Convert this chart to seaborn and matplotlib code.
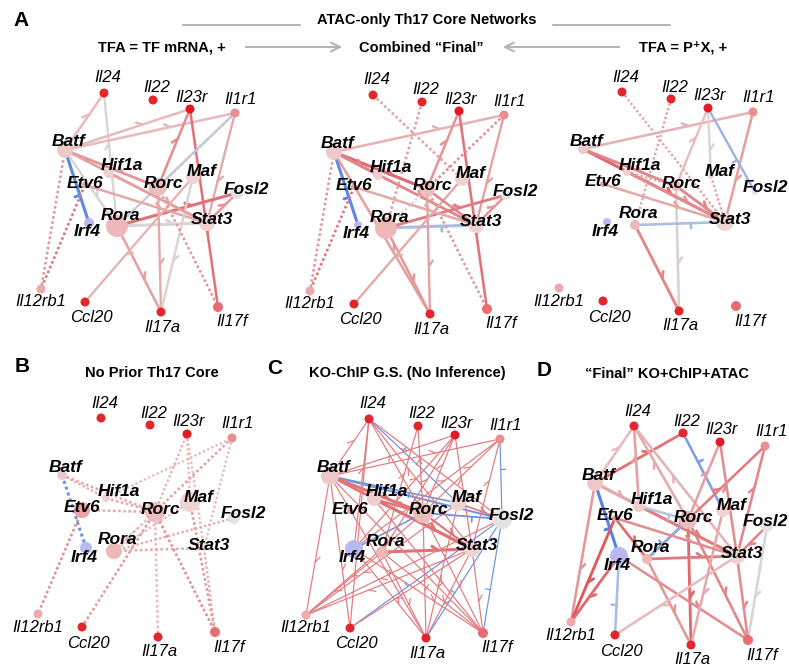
import numpy as np
import pandas as pd
import matplotlib
matplotlib.use('Agg')
import matplotlib.pyplot as plt
from matplotlib.colors import LinearSegmentedColormap
import seaborn as sns

W, H = 789, 666

# --- nodes ---
genes = ['Il24', 'Il22', 'Il23r', 'Il1r1', 'Il12rb1', 'Ccl20', 'Il17a', 'Il17f']
tfs = ['Batf', 'Hif1a', 'Maf', 'Rorc', 'Etv6', 'Fosl2', 'Rora', 'Stat3', 'Irf4']

# TF node radius (px) per panel, same order as tfs
tf_size_a1 = [8, 5, 7, 9, 3, 6, 11, 8, 5]
tf_size_a2 = [8, 5, 7, 8, 3, 5, 11, 8, 4]
tf_size_a3 = [5, 4, 3, 5, 3, 3, 5, 9, 4]
tf_size_b = [5, 4, 10, 10, 8, 6, 8, 3, 6]
tf_size_c = [9, 7, 8, 10, 3, 10, 6, 8, 9]
tf_size_d = [8, 6, 7, 9, 3, 6, 5, 8, 9]
gene_size = [4.5, 4.5, 4.5, 4.5, 4.5, 4.5, 4.5, 5]

# --- edges: (regulator, target, sign/strength, confidence, dotted) ---
edges_a1 = [
    ('Batf', 'Il24', 0.3, 0.7, 0), ('Rora', 'Il24', 0.05, 0.6, 0),
    ('Batf', 'Il23r', 0.3, 0.7, 0), ('Batf', 'Il1r1', 0.3, 0.7, 0),
    ('Batf', 'Irf4', -0.8, 0.9, 0), ('Batf', 'Rorc', 0.5, 0.8, 0),
    ('Batf', 'Stat3', 0.45, 0.7, 0), ('Batf', 'Rora', 0.05, 0.6, 0),
    ('Batf', 'Il12rb1', 0.5, 0.7, 1), ('Etv6', 'Il12rb1', 0.7, 0.7, 1),
    ('Rorc', 'Il23r', 0.55, 0.7, 0), ('Il23r', 'Il17f', 0.7, 0.7, 0),
    ('Il1r1', 'Stat3', 0.4, 0.6, 0), ('Il1r1', 'Rorc', 0.5, 0.7, 1),
    ('Il1r1', 'Rora', -0.15, 0.6, 0), ('Rora', 'Fosl2', 0.7, 0.9, 0),
    ('Rora', 'Stat3', 0.05, 0.9, 0), ('Etv6', 'Stat3', 0.4, 0.7, 0),
    ('Rora', 'Il17a', 0.45, 0.7, 0), ('Rorc', 'Il17a', 0.4, 0.6, 0),
    ('Maf', 'Ccl20', 0.35, 0.6, 0), ('Maf', 'Il17a', 0.1, 0.6, 0),
    ('Rorc', 'Il17f', 0.5, 0.7, 1), ('Hif1a', 'Stat3', 0.45, 0.7, 0),
    ('Stat3', 'Fosl2', 0.5, 0.7, 0),
]
edges_a2 = [
    ('Il24', 'Maf', 0.45, 0.7, 1), ('Il22', 'Rora', 0.45, 0.7, 1),
    ('Batf', 'Il1r1', 0.35, 0.7, 0), ('Rorc', 'Il23r', 0.5, 0.7, 0),
    ('Il23r', 'Il17f', 0.7, 0.7, 0), ('Il1r1', 'Stat3', 0.45, 0.6, 0),
    ('Il1r1', 'Rorc', 0.55, 0.7, 1), ('Batf', 'Irf4', -0.8, 0.9, 0),
    ('Batf', 'Rorc', 0.75, 0.9, 0), ('Batf', 'Stat3', 0.6, 0.8, 0),
    ('Batf', 'Hif1a', 0.6, 0.8, 0), ('Batf', 'Il12rb1', 0.5, 0.7, 1),
    ('Etv6', 'Il12rb1', 0.7, 0.7, 1), ('Batf', 'Il17a', 0.45, 0.7, 0),
    ('Rora', 'Il17a', 0.5, 0.7, 0), ('Rora', 'Stat3', -0.3, 0.9, 0),
    ('Rora', 'Fosl2', 0.65, 0.8, 0), ('Maf', 'Ccl20', 0.4, 0.6, 0),
    ('Rorc', 'Il17a', 0.45, 0.6, 0), ('Rorc', 'Il17f', 0.5, 0.7, 1),
    ('Etv6', 'Stat3', 0.4, 0.7, 0), ('Rorc', 'Stat3', 0.6, 0.7, 0),
    ('Stat3', 'Fosl2', 0.5, 0.7, 0), ('Rorc', 'Rora', 0.05, 0.6, 1),
]
edges_a3 = [
    ('Il24', 'Stat3', 0.45, 0.6, 1), ('Il22', 'Rora', 0.45, 0.6, 1),
    ('Batf', 'Il1r1', 0.35, 0.7, 0), ('Il1r1', 'Stat3', 0.45, 0.7, 0),
    ('Il23r', 'Fosl2', -0.4, 0.6, 0), ('Il23r', 'Maf', 0.05, 0.6, 0),
    ('Rorc', 'Il23r', 0.3, 0.6, 0), ('Rorc', 'Il17a', 0.1, 0.7, 0),
    ('Batf', 'Stat3', 0.75, 0.9, 0), ('Batf', 'Rorc', 0.6, 0.8, 0),
    ('Hif1a', 'Stat3', 0.55, 0.7, 0), ('Etv6', 'Stat3', 0.4, 0.7, 0),
    ('Rora', 'Stat3', -0.3, 0.7, 0), ('Rora', 'Il17a', 0.6, 0.8, 0),
    ('Maf', 'Stat3', 0.45, 0.6, 1), ('Hif1a', 'Rorc', 0.45, 0.6, 1),
    ('Rorc', 'Stat3', 0.6, 0.8, 0),
]
edges_b = [
    ('Batf', 'Irf4', -0.7, 0.9, 1), ('Batf', 'Rorc', 0.4, 0.7, 1),
    ('Hif1a', 'Il1r1', 0.3, 0.6, 1), ('Etv6', 'Il12rb1', 0.55, 0.7, 1),
    ('Etv6', 'Rorc', 0.4, 0.7, 1), ('Rorc', 'Il23r', 0.35, 0.6, 1),
    ('Il23r', 'Stat3', 0.3, 0.6, 1), ('Maf', 'Il23r', 0.3, 0.6, 1),
    ('Il1r1', 'Rora', 0.45, 0.7, 1), ('Il1r1', 'Stat3', 0.3, 0.6, 1),
    ('Rorc', 'Il17a', 0.3, 0.7, 1), ('Rorc', 'Il17f', 0.55, 0.7, 1),
    ('Maf', 'Il17f', 0.5, 0.7, 1), ('Rorc', 'Ccl20', 0.5, 0.7, 1),
    ('Rora', 'Stat3', 0.4, 0.7, 1), ('Rora', 'Fosl2', 0.4, 0.6, 1),
    ('Hif1a', 'Rorc', 0.4, 0.7, 1), ('Batf', 'Hif1a', 0.4, 0.6, 1),
    ('Stat3', 'Il17f', 0.4, 0.6, 1), ('Maf', 'Rora', 0.3, 0.6, 1),
    ('Rora', 'Rorc', 0.05, 0.6, 1),
]
edges_c = [
    ('Batf', 'Fosl2', -0.7, 0.45, 0), ('Batf', 'Maf', -0.7, 0.3, 0),
    ('Batf', 'Rorc', 0.7, 0.9, 0), ('Batf', 'Stat3', 0.7, 0.7, 0),
    ('Hif1a', 'Stat3', 0.7, 0.9, 0), ('Hif1a', 'Rorc', 0.7, 0.6, 0),
    ('Rora', 'Stat3', 0.7, 0.9, 0), ('Rorc', 'Fosl2', -0.7, 0.4, 0),
    ('Irf4', 'Rorc', -0.7, 0.3, 0), ('Rorc', 'Stat3', 0.7, 0.5, 0),
    ('Maf', 'Fosl2', 0.7, 0.3, 0),
    ('Batf', 'Il24', 0.65, 0.15, 0), ('Irf4', 'Il24', 0.65, 0.15, 0),
    ('Rorc', 'Il24', 0.65, 0.15, 0), ('Stat3', 'Il24', 0.65, 0.15, 0),
    ('Fosl2', 'Il24', 0.65, 0.15, 0), ('Maf', 'Il24', -0.7, 0.15, 0),
    ('Rorc', 'Il22', 0.65, 0.15, 0), ('Rora', 'Il22', 0.65, 0.15, 0),
    ('Batf', 'Il23r', 0.65, 0.15, 0), ('Rorc', 'Il23r', 0.65, 0.15, 0),
    ('Stat3', 'Il23r', 0.65, 0.15, 0), ('Irf4', 'Il23r', 0.65, 0.15, 0),
    ('Rora', 'Il23r', 0.65, 0.15, 0),
    ('Batf', 'Il1r1', 0.65, 0.15, 0), ('Rorc', 'Il1r1', 0.65, 0.15, 0),
    ('Stat3', 'Il1r1', 0.65, 0.15, 0), ('Irf4', 'Il1r1', 0.65, 0.15, 0),
    ('Fosl2', 'Il1r1', -0.7, 0.15, 0),
    ('Batf', 'Il12rb1', 0.65, 0.15, 0), ('Rorc', 'Il12rb1', 0.65, 0.15, 0),
    ('Stat3', 'Il12rb1', 0.65, 0.15, 0), ('Fosl2', 'Il12rb1', 0.65, 0.15, 0),
    ('Rora', 'Il12rb1', 0.65, 0.15, 0), ('Maf', 'Il12rb1', 0.65, 0.15, 0),
    ('Fosl2', 'Ccl20', -0.7, 0.15, 0), ('Stat3', 'Ccl20', 0.65, 0.15, 0),
    ('Batf', 'Ccl20', 0.65, 0.15, 0), ('Il24', 'Ccl20', 0.65, 0.15, 0),
    ('Batf', 'Il17a', 0.65, 0.15, 0), ('Irf4', 'Il17a', 0.65, 0.15, 0),
    ('Rorc', 'Il17a', 0.65, 0.15, 0), ('Stat3', 'Il17a', 0.65, 0.15, 0),
    ('Fosl2', 'Il17a', -0.7, 0.15, 0), ('Maf', 'Il17a', 0.65, 0.15, 0),
    ('Rora', 'Il17a', 0.65, 0.15, 0),
    ('Batf', 'Il17f', 0.65, 0.15, 0), ('Irf4', 'Il17f', 0.65, 0.15, 0),
    ('Rorc', 'Il17f', 0.65, 0.15, 0), ('Stat3', 'Il17f', 0.65, 0.15, 0),
    ('Fosl2', 'Il17f', -0.7, 0.15, 0), ('Rora', 'Il17f', 0.65, 0.15, 0),
    ('Hif1a', 'Il17f', 0.65, 0.15, 0),
]
edges_d = [
    ('Batf', 'Irf4', -0.85, 0.9, 0), ('Batf', 'Il22', 0.7, 0.8, 0),
    ('Maf', 'Il22', -0.6, 0.7, 0), ('Batf', 'Il24', 0.3, 0.7, 0),
    ('Hif1a', 'Il24', 0.45, 0.7, 0), ('Rorc', 'Il24', 0.4, 0.7, 0),
    ('Stat3', 'Il24', 0.35, 0.7, 0), ('Batf', 'Il12rb1', 0.5, 0.7, 0),
    ('Etv6', 'Il12rb1', 0.85, 0.8, 0), ('Irf4', 'Il12rb1', 0.75, 0.8, 0),
    ('Irf4', 'Ccl20', -0.3, 0.7, 0), ('Fosl2', 'Il17f', 0.05, 0.7, 0),
    ('Rorc', 'Il17a', 0.75, 0.8, 0), ('Rorc', 'Il17f', 0.6, 0.7, 0),
    ('Stat3', 'Il17f', 0.55, 0.7, 0), ('Irf4', 'Il17f', 0.55, 0.7, 0),
    ('Rora', 'Il1r1', 0.65, 0.7, 0), ('Stat3', 'Il1r1', 0.6, 0.7, 0),
    ('Rorc', 'Il23r', 0.45, 0.7, 0), ('Stat3', 'Il23r', 0.55, 0.7, 0),
    ('Rora', 'Stat3', 0.65, 0.8, 0), ('Batf', 'Stat3', 0.6, 0.8, 0),
    ('Hif1a', 'Stat3', 0.65, 0.8, 0), ('Rorc', 'Rora', -0.5, 0.7, 0),
    ('Hif1a', 'Rorc', -0.2, 0.7, 0), ('Rora', 'Il17a', 0.5, 0.7, 0),
    ('Stat3', 'Ccl20', 0.3, 0.7, 0), ('Fosl2', 'Stat3', 0.6, 0.7, 0),
    ('Etv6', 'Rora', 0.75, 0.7, 0), ('Maf', 'Il17a', 0.4, 0.7, 0),
    ('Etv6', 'Stat3', 0.55, 0.7, 0), ('Batf', 'Hif1a', 0.4, 0.7, 0),
]

# --- layout (px, relative to panel A top-left) ---
layout = {
    'Il24': (104, 93), 'Il22': (153, 100), 'Il23r': (190, 109), 'Il1r1': (235, 113),
    'Batf': (65, 150), 'Hif1a': (109, 173), 'Maf': (193, 177), 'Rorc': (158, 187),
    'Etv6': (85, 185), 'Fosl2': (237, 193), 'Rora': (117, 226), 'Stat3': (207, 223),
    'Irf4': (89, 223), 'Il12rb1': (41, 289), 'Ccl20': (85, 302), 'Il17a': (161, 312),
    'Il17f': (218, 307),
}
label_off = {
    'Il24': (4, -15), 'Il22': (4, -12), 'Il23r': (2, -12), 'Il1r1': (6, -14),
    'Batf': (4, -8), 'Hif1a': (13, -7), 'Maf': (9, -5), 'Rorc': (5, -3),
    'Etv6': (0, -2), 'Fosl2': (9, -4), 'Rora': (3, -11), 'Stat3': (5, -3),
    'Irf4': (-2, 9), 'Il12rb1': (0, 13), 'Ccl20': (6, 16), 'Il17a': (1, 15),
    'Il17f': (14, 15),
}
node_color = {
    'Il24': '#e3262b', 'Il22': '#e3262b', 'Il23r': '#e31a22', 'Il1r1': '#ec8e90',
    'Il12rb1': '#eeaaab', 'Ccl20': '#e3262b', 'Il17a': '#e3262b', 'Il17f': '#e86c70',
    'Batf': '#edcaca', 'Hif1a': '#efcfcf', 'Maf': '#f0d3d3', 'Rorc': '#ebbdbd',
    'Etv6': '#e9a3a3', 'Fosl2': '#e3e3e3', 'Rora': '#ecb8b8', 'Stat3': '#efd3d3',
    'Irf4': '#b9b9ef',
}

edge_cmap = LinearSegmentedColormap.from_list(
    'edge', [(0.0, '#3f75e0'), (0.35, '#aabde3'), (0.5, '#d9d9d9'),
             (0.65, '#e6bcbc'), (1.0, '#dc3d45')])


def draw_panel(ax, edges, tf_sizes, off):
    ox, oy = off
    pos = {n: (x + ox, y + oy) for n, (x, y) in layout.items()}
    for src, tgt, s, w, dot in edges:
        (x0, y0), (x1, y1) = pos[src], pos[tgt]
        col = edge_cmap((s + 1) / 2)
        lw = 0.6 + 1.8 * w
        if dot:
            ax.plot([x0, x1], [y0, y1], color=col, lw=lw, ls=(0, (1, 1)),
                    dash_capstyle='butt', zorder=1)
            continue
        ax.plot([x0, x1], [y0, y1], color=col, lw=lw, solid_capstyle='round', zorder=1)
        # small direction mark along the edge
        d = np.array([x1 - x0, y1 - y0])
        u = d / np.hypot(*d)
        p = np.array([x0, y0]) + 0.62 * d
        if s < 0:
            q = p + 5 * np.array([-u[1], u[0]])
        else:
            a = np.deg2rad(35)
            r = np.array([u[0] * np.cos(a) - u[1] * np.sin(a),
                          u[0] * np.sin(a) + u[1] * np.cos(a)])
            q = p - 7 * r
        ax.plot([p[0], q[0]], [p[1], q[1]], color=col, lw=lw, zorder=1)

    radius = dict(zip(genes, gene_size)) | dict(zip(tfs, tf_sizes))
    df = pd.DataFrame({'node': list(layout)})
    df['x'] = [pos[n][0] for n in df['node']]
    df['y'] = [pos[n][1] for n in df['node']]
    df['area'] = [(1.44 * radius[n]) ** 2 for n in df['node']]
    sns.scatterplot(data=df, x='x', y='y', hue='node', palette=node_color,
                    size='area', sizes=(1, 600), size_norm=(1, 600),
                    linewidth=0, legend=False, ax=ax, zorder=3)
    for n, (x, y) in pos.items():
        dx, dy = label_off[n]
        tx, ha = x + dx, 'center'
        if tx > W - 26:  # keep labels at the right edge inside the figure
            tx, ha = W - 1, 'right'
        if n in tfs:
            ax.text(tx, y + dy, n, ha=ha, va='center', fontsize=12.5,
                    fontweight='bold', fontstyle='italic', zorder=4)
        else:
            ax.text(tx, y + dy, n, ha=ha, va='center', fontsize=12,
                    fontstyle='italic', zorder=4)


sns.set_theme(style='white')
plt.rcParams['font.family'] = ['Liberation Sans', 'DejaVu Sans']
plt.rcParams['text.color'] = 'black'

fig = plt.figure(figsize=(W / 100, H / 100), dpi=100)
ax = fig.add_axes([0, 0, 1, 1])
ax.set_xlim(0, W)
ax.set_ylim(H, 0)
ax.axis('off')

panels = [
    (edges_a1, tf_size_a1, (0, 0)),
    (edges_a2, tf_size_a2, (269, 2)),
    (edges_a3, tf_size_a3, (518, -1)),
    (edges_b, tf_size_b, (-3, 325)),
    (edges_c, tf_size_c, (265, 326)),
    (edges_d, tf_size_d, (530, 333)),
]
for edges, sizes, off in panels:
    draw_panel(ax, edges, sizes, off)

# headers
grey = '#b5b5b5'
ax.text(427, 20, 'ATAC-only Th17 Core Networks', ha='center', va='center',
        fontsize=10.5, fontweight='bold')
ax.plot([183, 300], [25, 25], color=grey, lw=1.5)
ax.plot([553, 670], [25, 25], color=grey, lw=1.5)
ax.text(162, 48, 'TFA = TF mRNA, +', ha='center', va='center', fontsize=10.5, fontweight='bold')
ax.text(421, 48, 'Combined \u201cFinal\u201d', ha='center', va='center', fontsize=10.5, fontweight='bold')
ax.text(683, 48, 'TFA = P\u207aX, +', ha='center', va='center', fontsize=10.5, fontweight='bold')
ax.annotate('', xy=(345, 47), xytext=(243, 47),
            arrowprops=dict(arrowstyle='->', color=grey, lw=1.5, mutation_scale=16))
ax.annotate('', xy=(500, 47), xytext=(622, 47),
            arrowprops=dict(arrowstyle='->', color=grey, lw=1.5, mutation_scale=16))

for letter, xy in [('A', (21, 20)), ('B', (22, 367)), ('C', (275, 368)), ('D', (544, 371))]:
    ax.text(*xy, letter, ha='center', va='center', fontsize=15, fontweight='bold')
ax.text(152, 373, 'No Prior Th17 Core', ha='center', va='center', fontsize=10.5, fontweight='bold')
ax.text(407, 373, 'KO-ChIP G.S. (No Inference)', ha='center', va='center', fontsize=10.5, fontweight='bold')
ax.text(667, 374, '\u201cFinal\u201d KO+ChIP+ATAC', ha='center', va='center', fontsize=10.5, fontweight='bold')

fig.savefig('out.png', dpi=100)
